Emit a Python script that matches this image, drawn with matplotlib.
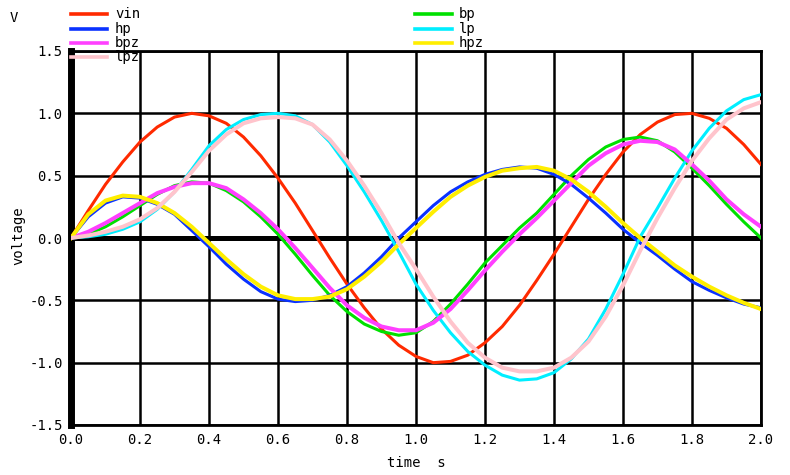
import numpy as np
import matplotlib
matplotlib.use("Agg")
import matplotlib.pyplot as plt
from matplotlib.lines import Line2D

# sample times (s)
t = np.round(np.arange(0, 2.0001, 0.05), 2)

vin = [0.00, 0.22, 0.43, 0.61, 0.77, 0.89, 0.97, 1.00, 0.98, 0.92,
       0.81, 0.66, 0.48, 0.28, 0.06, -0.16, -0.37, -0.56, -0.73, -0.86,
       -0.95, -1.00, -0.99, -0.94, -0.84, -0.71, -0.54, -0.34, -0.13, 0.09,
       0.31, 0.51, 0.69, 0.83, 0.93, 0.99, 1.00, 0.96, 0.88, 0.75, 0.59]
hp = [0.00, 0.17, 0.28, 0.33, 0.32, 0.27, 0.19, 0.06, -0.07, -0.21,
      -0.33, -0.43, -0.49, -0.51, -0.50, -0.46, -0.39, -0.28, -0.15, 0.00,
      0.13, 0.26, 0.37, 0.45, 0.51, 0.55, 0.57, 0.56, 0.51, 0.43,
      0.32, 0.20, 0.07, -0.04, -0.14, -0.25, -0.35, -0.42, -0.48, -0.53, -0.56]
bp = [0.00, 0.03, 0.09, 0.17, 0.26, 0.35, 0.42, 0.45, 0.44, 0.38,
      0.29, 0.17, 0.03, -0.13, -0.30, -0.46, -0.59, -0.69, -0.75, -0.78,
      -0.76, -0.67, -0.53, -0.37, -0.20, -0.06, 0.08, 0.20, 0.35, 0.50,
      0.63, 0.73, 0.79, 0.81, 0.78, 0.69, 0.56, 0.42, 0.27, 0.13, 0.00]
lp = [0.00, 0.01, 0.03, 0.07, 0.13, 0.23, 0.37, 0.55, 0.74, 0.87,
      0.95, 0.99, 1.00, 0.98, 0.91, 0.77, 0.58, 0.37, 0.14, -0.11,
      -0.37, -0.58, -0.76, -0.91, -1.02, -1.10, -1.14, -1.13, -1.08, -0.97,
      -0.81, -0.57, -0.29, 0.01, 0.24, 0.48, 0.70, 0.88, 1.02, 1.11, 1.15]
hpz = [0.00, 0.19, 0.30, 0.34, 0.33, 0.28, 0.20, 0.09, -0.04, -0.17,
       -0.29, -0.39, -0.46, -0.49, -0.49, -0.47, -0.41, -0.31, -0.19, -0.05,
       0.08, 0.21, 0.33, 0.42, 0.49, 0.54, 0.56, 0.57, 0.54, 0.47,
       0.37, 0.25, 0.12, 0.00, -0.11, -0.22, -0.31, -0.39, -0.46, -0.52, -0.57]
bpz = [0.00, 0.05, 0.12, 0.20, 0.28, 0.36, 0.41, 0.44, 0.44, 0.40,
       0.31, 0.20, 0.07, -0.08, -0.24, -0.40, -0.54, -0.64, -0.71, -0.74,
       -0.74, -0.68, -0.57, -0.42, -0.26, -0.11, 0.03, 0.16, 0.30, 0.44,
       0.58, 0.68, 0.75, 0.78, 0.77, 0.71, 0.59, 0.46, 0.31, 0.19, 0.09]
lpz = [0.00, 0.02, 0.05, 0.09, 0.15, 0.24, 0.37, 0.53, 0.70, 0.83,
       0.92, 0.96, 0.97, 0.96, 0.91, 0.79, 0.62, 0.42, 0.20, -0.04,
       -0.25, -0.47, -0.67, -0.84, -0.96, -1.04, -1.07, -1.07, -1.04, -0.96,
       -0.83, -0.63, -0.38, -0.10, 0.16, 0.40, 0.62, 0.80, 0.95, 1.04, 1.09]

names = ["vin", "hp", "bpz", "lpz", "bp", "lp", "hpz"]
series = [vin, hp, bpz, lpz, bp, lp, hpz]
colors = ["#ff2a00", "#0a32ff", "#ff40ff", "#ffc4cc", "#00e000", "#00eeff", "#ffee00"]

xticks = np.round(np.arange(0, 2.01, 0.2), 1)
yticks = [-1.5, -1.0, -0.5, 0.0, 0.5, 1.0, 1.5]

W, H = 790, 475
fig = plt.figure(figsize=(W / 100, H / 100), dpi=100)
ax = fig.add_axes([71 / W, 1 - 425 / H, (761 - 71) / W, (425 - 51) / H])

mono = "DejaVu Sans Mono"
fs = 10

ax.set_xlim(0, 2.0)
ax.set_ylim(-1.5, 1.5)
ax.set_xticks(xticks)
ax.set_yticks(yticks)
ax.set_xticklabels([f"{v:.1f}" for v in xticks], family=mono, fontsize=fs)
ax.set_yticklabels([f"{v:.1f}" for v in yticks], family=mono, fontsize=fs)
ax.tick_params(length=0, pad=6)
ax.grid(True, color="black", linewidth=1.8)
ax.axhline(0, color="black", linewidth=3.6, zorder=1)
for s in ax.spines.values():
    s.set_linewidth(2.0)
ax.spines["left"].set_linewidth(5)

# analog outputs first, sampled versions on top
order = [0, 4, 1, 5, 2, 6, 3]
for i in order:
    lw = 2.9 if names[i].endswith("z") else 2.2
    ax.plot(t, series[i], color=colors[i], linewidth=lw, zorder=3,
            solid_joinstyle="round")

# legend in two columns above the plot
left_rows = [0, 1, 2, 3]
right_rows = [4, 5, 6]
row_y = [14, 29, 43, 57]
for col, rows in ((0, left_rows), (1, right_rows)):
    x0, x1, xt = (71, 107, 115) if col == 0 else (415, 452, 459)
    for r, i in enumerate(rows):
        y = 1 - row_y[r] / H
        fig.add_artist(Line2D([x0 / W, x1 / W], [y, y], color=colors[i],
                              linewidth=2.6, transform=fig.transFigure))
        fig.text(xt / W, y, names[i], family=mono, fontsize=fs,
                 va="center", ha="left")

fig.text(14 / W, 1 - 18 / H, "V", family=mono, fontsize=fs, ha="center", va="center")
fig.text(18 / W, 1 - 236 / H, "voltage", family=mono, fontsize=fs,
         rotation=90, ha="center", va="center")
fig.text(416 / W, 1 - 463 / H, "time  s", family=mono, fontsize=fs,
         ha="center", va="center")

fig.savefig("out.png", dpi=100)
